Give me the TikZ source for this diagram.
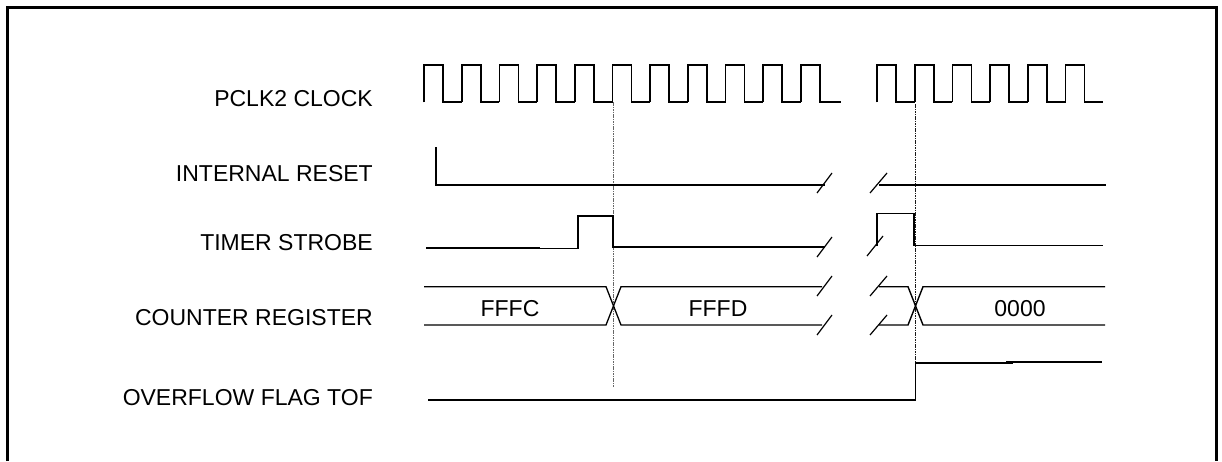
\documentclass[tikz,border=0pt]{standalone}
\usepackage{fontspec}
\setmainfont{Liberation Sans}
\begin{document}
\begin{tikzpicture}[x=1pt,y=-1pt,
  wave/.style={line width=1.7pt, line join=miter, line cap=butt},
  brk/.style={line width=1.2pt},
  lbl/.style={anchor=base east, inner sep=0pt, font=\fontsize{23}{26}\selectfont},
  val/.style={anchor=base, inner sep=0pt, font=\fontsize{23}{26}\selectfont},
  guide/.style={line width=1.8pt, dash pattern=on 1.6pt off 0.8pt}]
\useasboundingbox (0,0) rectangle (1222,461);
% frame (open at the bottom)
\draw[line width=2.2pt] (7.5,461) -- (7.5,7.5) -- (1216.5,7.5) -- (1216.5,461);

% labels
\node[lbl] (lclk) at (373,106.7) {PCLK2 CLOCK};
\node[lbl] (lrst) at (373,181.7) {INTERNAL RESET};
\node[lbl] (lstb) at (373,250) {TIMER STROBE};
\node[lbl] (lcnt) at (373,325) {COUNTER REGISTER};
\node[lbl] (ltof) at (373,405) {OVERFLOW FLAG TOF};

% guide lines
\draw[guide, black!60] (613.5,102) -- (613.5,387);
\draw[guide, black!90, line width=1.3pt] (915.5,104) -- (915.5,363);

% clock, first part
\foreach \k in {0,...,10} {
  \pgfmathsetmacro{\r}{424+37.7*\k}
  \pgfmathsetmacro{\f}{\r+19}
  \pgfmathsetmacro{\n}{\r+37.7}
  \ifnum\k<10
    \draw[wave] (\r,102.3) -- (\r,65) -- (\f,65) -- (\f,102.3) -- (\n,102.3);
  \else
    \draw[wave] (\r,102.3) -- (\r,65) -- (\f,65) -- (\f,102.3) -- (841,102.3);
  \fi
}
% clock, second part
\foreach \k in {0,...,5} {
  \pgfmathsetmacro{\r}{877+37.7*\k}
  \pgfmathsetmacro{\f}{\r+19}
  \pgfmathsetmacro{\n}{\r+37.7}
  \ifnum\k<5
    \draw[wave] (\r,102.3) -- (\r,65) -- (\f,65) -- (\f,102.3) -- (\n,102.3);
  \else
    \draw[wave] (\r,102.3) -- (\r,65) -- (\f,65) -- (\f,102.3) -- (1103,102.3);
  \fi
}

% internal reset
\draw[wave] (436,147) -- (436,184.7) -- (825,184.7);
\draw[brk] (817,193) -- (832,173);
\draw[brk] (870,193) -- (887,173);
\draw[wave] (879,184.7) -- (1106,184.7);

% timer strobe
\draw[wave] (426,247.7) -- (540,247.7);
\draw[wave] (538,248.5) -- (577.7,248.5) -- (577.7,216) -- (613.3,216) -- (613.3,246.8) -- (825,246.8);
\draw[brk] (817,257) -- (832,237);
\draw[brk] (867,256) -- (883,236);
\draw[wave] (876.7,246) -- (876.7,213.5) -- (914.3,213.5) -- (914.3,245.5) -- (1103,245.5);

% counter register
\draw[wave, line width=1.3pt] (424,286.7) -- (606,286.7) -- (621,325) -- (822,325);
\draw[wave, line width=1.3pt] (424,325) -- (606,325) -- (621,286.7) -- (822,286.7);
\draw[brk] (817,296) -- (832,276);
\draw[brk] (817,335) -- (832,315);
\draw[brk] (870,296) -- (887,276);
\draw[brk] (870,335) -- (887,315);
\draw[wave, line width=1.4pt] (879,286.7) -- (908,286.7) -- (923,325) -- (1105,325);
\draw[wave, line width=1.4pt] (879,325) -- (908,325) -- (923,286.7) -- (1105,286.7);
\node[val] (vfffc) at (510,316.5) {FFFC};
\node[val] (vfffd) at (718,316.5) {FFFD};
\node[val] (v0000) at (1020,316.5) {0000};

% overflow flag
\draw[wave] (428,400) -- (915.5,400) -- (915.5,363) -- (1013,363);
\draw[wave] (1006,361.7) -- (1102,361.7);
\end{tikzpicture}
\end{document}
